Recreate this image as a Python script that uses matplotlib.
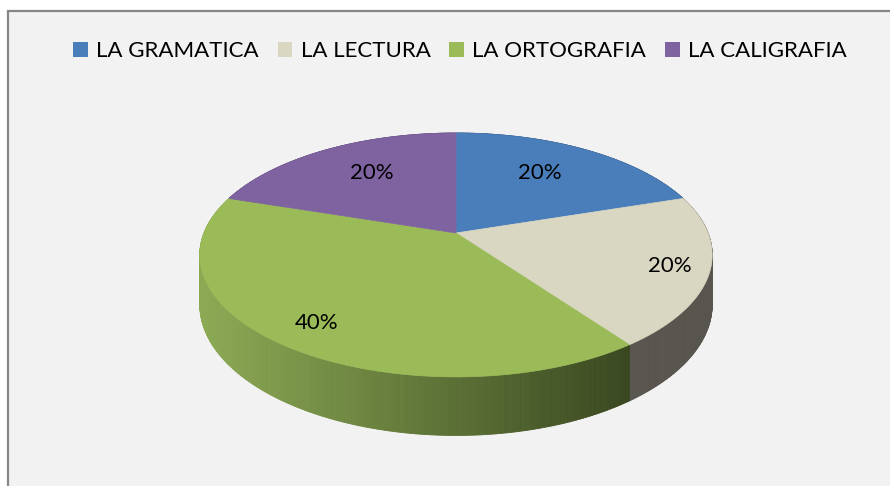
import numpy as np
import matplotlib.pyplot as plt
from matplotlib.patches import Polygon, Patch, Rectangle
from matplotlib.collections import PolyCollection

# data
labels = ["LA GRAMATICA", "LA LECTURA", "LA ORTOGRAFIA", "LA CALIGRAFIA"]
values = [20, 20, 40, 20]
pct_text = ["20%", "20%", "40%", "20%"]

# style
top_colors = ["#4a7ebb", "#d9d7c2", "#9bbb59", "#7f63a1"]
# side shading: colour at the left edge and right edge of the pie
side_left = [(40, 70, 110), (94, 90, 82), (140, 170, 84), (80, 60, 105)]
side_right = [(30, 55, 90), (88, 84, 78), (42, 53, 22), (60, 45, 80)]
label_r = [0.62, 0.85, 0.83, 0.62]
label_dy = [-6, 0, 0, -6]

plt.rcParams['font.family'] = ['Lato', 'DejaVu Sans']
fs = 16.0

fig = plt.figure(figsize=(8.9, 4.86), dpi=100)
ax = fig.add_axes([0, 0, 1, 1])
ax.set_xlim(0, 890)
ax.set_ylim(486, 0)
ax.axis('off')

ax.add_patch(Rectangle((8, 11), 900, 500, facecolor='#f2f2f2',
                       edgecolor='#868686', lw=1.6, zorder=0))

# pie projection (slight perspective, tilted view)
cx, cy = 456, 233
B, A, D, k = 252, 118, 48, 0.18


def proj(theta, r=1.0, z=0.0):
    u = r * np.sin(theta)
    v = r * np.cos(theta)
    s = 1.0 / (1 + k * v)
    return cx + B * u * s, cy - A * v * s + D * z * s


frac = np.array(values) / sum(values)
bounds = np.concatenate([[0], np.cumsum(frac)]) * 2 * np.pi

# side walls, back to front
quads, qcol, qkey = [], [], []
for i in range(len(values)):
    a0, a1 = bounds[i], bounds[i + 1]
    n = max(int(np.degrees(a1 - a0) * 2), 2)
    th = np.linspace(a0, a1, n + 1)
    for j in range(n):
        t0, t1 = th[j], th[j + 1]
        x0, y0 = proj(t0)
        x1, y1 = proj(t1)
        x2, y2 = proj(t1, z=1)
        x3, y3 = proj(t0, z=1)
        quads.append([(x0, y0), (x1, y1), (x2, y2), (x3, y3)])
        xm = (x0 + x1) / 2
        t = np.clip((xm - (cx - B)) / (2 * B), 0, 1)
        c = (1 - t) * np.array(side_left[i]) + t * np.array(side_right[i])
        qcol.append(c / 255)
        qkey.append(np.cos((t0 + t1) / 2))
order = np.argsort(qkey)[::-1]
pc = PolyCollection([quads[o] for o in order],
                    facecolors=[qcol[o] for o in order],
                    edgecolors=[qcol[o] for o in order], linewidths=0.6, zorder=2)
ax.add_collection(pc)

# top faces
for i in range(len(values)):
    th = np.linspace(bounds[i], bounds[i + 1], 200)
    pts = [(cx, cy)] + [proj(t) for t in th]
    ax.add_patch(Polygon(pts, closed=True, facecolor=top_colors[i],
                         edgecolor=top_colors[i], lw=0.5, zorder=3))

# percentage labels
for i in range(len(values)):
    mid = (bounds[i] + bounds[i + 1]) / 2
    x, y = proj(mid, r=label_r[i])
    ax.text(x, y + label_dy[i], pct_text[i], ha='center', va='center', fontsize=fs,
            color='black', zorder=4)

handles = [Patch(facecolor=c, edgecolor='none') for c in top_colors]
fig.legend(handles, labels, loc='center', bbox_to_anchor=(460 / 890, 1 - 51 / 486),
           ncol=4, frameon=False, fontsize=fs, handlelength=0.66, handleheight=0.66,
           handletextpad=0.37, columnspacing=0.85)

fig.savefig('out.png', dpi=100, facecolor='white')
